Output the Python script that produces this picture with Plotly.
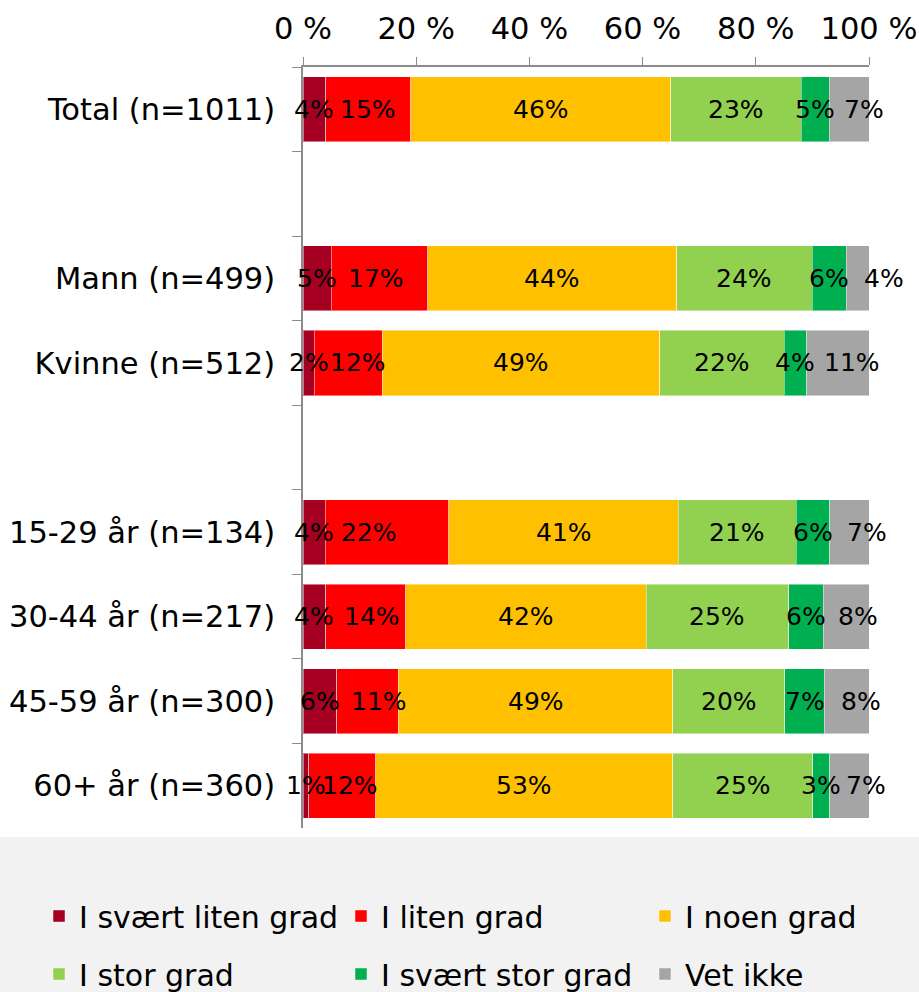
import plotly.graph_objects as go

# Row labels (top to bottom); blank entries separate the groups
groups = ["Total (n=1011)", " ", "Mann (n=499)", "Kvinne (n=512)", "  ",
          "15-29 år (n=134)", "30-44 år (n=217)", "45-59 år (n=300)", "60+ år (n=360)"]

series_names = ["I svært liten grad", "I liten grad", "I noen grad",
                "I stor grad", "I svært stor grad", "Vet ikke"]
series_colors = ["#A50021", "#FF0000", "#FFC000", "#92D050", "#00B050", "#A5A5A5"]

# Percent per answer category, one list per series (None = spacer row)
svaert_liten = [4, None, 5, 2, None, 4, 4, 6, 1]
liten = [15, None, 17, 12, None, 22, 14, 11, 12]
noen = [46, None, 44, 49, None, 41, 42, 49, 53]
stor = [23, None, 24, 22, None, 21, 25, 20, 25]
svaert_stor = [5, None, 6, 4, None, 6, 6, 7, 3]
vet_ikke = [7, None, 4, 11, None, 7, 8, 8, 7]

series_values = [svaert_liten, liten, noen, stor, svaert_stor, vet_ikke]

x_ticks = [0, 20, 40, 60, 80, 100]

FONT = "Verdana, DejaVu Sans, sans-serif"

# Horizontal nudges (px) for labels that sit next to a crowded neighbour
label_nudge = {
    1: [0, 0, -3, 10, 0, -18, 6, 12, 8],       # I liten grad
    5: [15, 0, 26, 14, 0, 18, 12, 14, 17],     # Vet ikke
}

W, H = 919, 992
L, R, T, B = 303, 50, 67, 164
pw, ph = W - L - R, H - T - B

fig = go.Figure()
legend_slots = [(39, 916), (341, 916), (645, 916), (39, 974), (341, 974), (645, 974)]
legend_layout = {}
for i, (name, color, vals) in enumerate(zip(series_names, series_colors, series_values)):
    key = "legend" if i == 0 else f"legend{i + 1}"
    fig.add_trace(go.Bar(
        y=groups,
        x=vals,
        name=name,
        orientation="h",
        marker=dict(color=color, line=dict(color="rgba(255,255,255,0.45)", width=1)),
        hoverinfo="skip",
        showlegend=True,
        legend=key,
    ))
    lx, ly = legend_slots[i]
    legend_layout[key] = dict(
        orientation="h",
        xref="container", yref="container",
        x=lx / W, y=1 - ly / H,
        xanchor="left", yanchor="middle",
        bgcolor="rgba(0,0,0,0)",
        font=dict(family=FONT, size=30),
    )

# Data labels centred on each segment of the percent-normalised stack,
# drawn as annotations so they sit above every bar
annotations = []
for r, g in enumerate(groups):
    row = [vals[r] for vals in series_values]
    if any(v is None for v in row):
        continue
    total = sum(row)
    cum = 0
    for s, v in enumerate(row):
        annotations.append(dict(
            x=(cum + v / 2) / total * 100, y=g,
            xref="x", yref="y",
            text=f"{v}%", showarrow=False,
            xshift=label_nudge.get(s, [0] * len(groups))[r],
            font=dict(family=FONT, size=25, color="#000000"),
        ))
        cum += v

fig.update_layout(
    width=W, height=H,
    showlegend=True,
    barmode="stack",
    barnorm="percent",
    bargap=0.23,
    plot_bgcolor="white",
    paper_bgcolor="white",
    margin=dict(l=L, r=R, t=T, b=B, autoexpand=False),
    font=dict(family=FONT, size=30, color="#000000"),
    annotations=annotations,
    xaxis=dict(
        side="top",
        range=[0, 100],
        tickvals=x_ticks,
        ticktext=[f"{v} %" for v in x_ticks],
        showgrid=False,
        zeroline=False,
        showline=True,
        linecolor="#8c8c8c",
        linewidth=1.5,
        ticks="outside",
        ticklen=8,
        tickcolor="#8c8c8c",
        tickfont=dict(family=FONT, size=30.5),
        ticklabelstandoff=6,
    ),
    yaxis=dict(
        type="category",
        categoryorder="array",
        categoryarray=groups,
        range=[len(groups) - 0.5, -0.5],
        showgrid=False,
        zeroline=False,
        showline=True,
        linecolor="#8c8c8c",
        linewidth=1.5,
        ticks="outside",
        tickson="boundaries",
        ticklen=9,
        tickcolor="#8c8c8c",
        tickfont=dict(family=FONT, size=30.5),
        ticklabelstandoff=20,
    ),
    shapes=[dict(
        type="rect", xref="paper", yref="paper", layer="below",
        x0=-L / pw - 0.02, x1=(W - L) / pw + 0.02,
        y0=-(837 - (H - B)) / ph, y1=-(B + 10) / ph,
        fillcolor="#f2f2f2", line=dict(width=0),
    )],
    **legend_layout,
)

fig.write_html("out.html")
